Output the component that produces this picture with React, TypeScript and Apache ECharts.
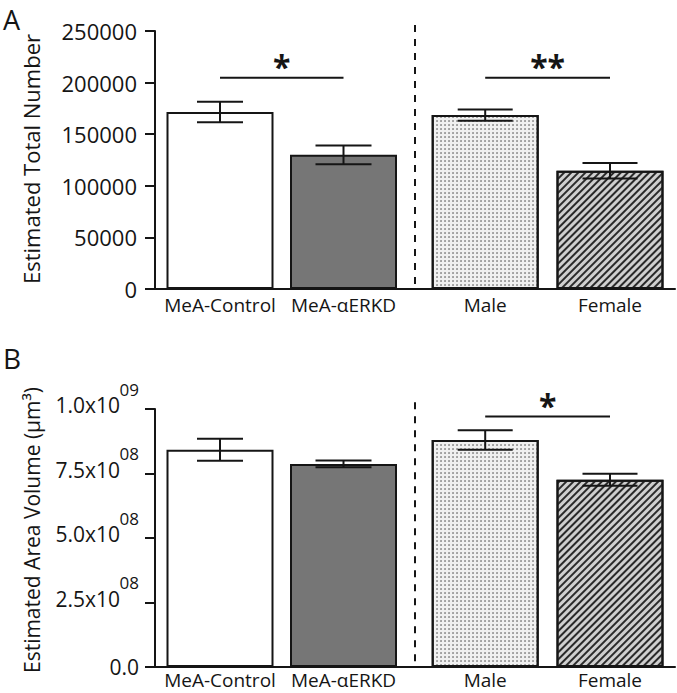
import React, { useEffect, useRef } from 'react';
import * as echarts from 'echarts';

// ---- data ----
const categories = ['MeA-Control', 'MeA-\u03b1ERKD', 'Male', 'Female'];
const categoryPositions = [0.5, 1.45, 2.54, 3.5];
const xMin = 0;
const xMax = 4;

const totalNumberMeans = [171500, 130000, 168500, 114500];
const totalNumberErrors = [10000, 9000, 5500, 7500];
const totalNumberTicks = { min: 0, max: 250000, interval: 50000 };

const areaVolumeMeans = [8.42e8, 7.87e8, 8.8e8, 7.26e8];
const areaVolumeErrors = [0.43e8, 0.13e8, 0.375e8, 0.23e8];
const areaVolumeTicks = { min: 0, max: 1e9, interval: 2.5e8 };

// significance brackets: [fromIndex, toIndex, level, label]
const sigTotalNumber: [number, number, number, string][] = [
  [0, 1, 204700, '*'],
  [2, 3, 204700, '**'],
];
const sigAreaVolume: [number, number, number, string][] = [[2, 3, 9.71e8, '*']];

// divider between the two experiments: [x, top value]
const dividerTotalNumber = [2.0, 255800];
const dividerAreaVolume = [2.0, 1.026e9];

// ---- styles ----
const FONT = 'Open Sans';
const INK = '#151515';
const capWidths = [46, 56, 55, 55];

const barStyles = [
  { color: '#ffffff' },
  { color: '#767676' },
  {
    color: '#f0f0f0',
    decal: {
      symbol: 'circle',
      symbolSize: 0.7,
      dashArrayX: [2, 2],
      dashArrayY: [2, 2],
      color: '#333333',
      backgroundColor: '#f2f2f2',
    },
  },
  {
    color: '#cfcfcf',
    decal: {
      symbol: 'rect',
      symbolSize: 1,
      dashArrayX: [1, 0],
      dashArrayY: [1.6, 3],
      rotation: -Math.PI / 4,
      color: '#2a2a2a',
      backgroundColor: '#cfcfcf',
    },
  },
];

function buildBars(means: number[]) {
  return means.map((m, i) => ({
    value: [categoryPositions[i], m],
    itemStyle: { ...barStyles[i], borderColor: INK, borderWidth: 2 },
  }));
}

function errorSeries(means: number[], errs: number[], idx: number) {
  return {
    type: 'custom',
    xAxisIndex: idx,
    yAxisIndex: idx,
    z: 5,
    data: means.map((m, i) => [categoryPositions[i], m, errs[i]]),
    renderItem: (params: any, api: any) => {
      const x = api.value(0);
      const m = api.value(1);
      const e = api.value(2);
      const top = api.coord([x, m + e]);
      const bot = api.coord([x, m - e]);
      const hw = capWidths[params.dataIndex] / 2;
      const st = { stroke: INK, lineWidth: 2 };
      return {
        type: 'group',
        children: [
          { type: 'line', shape: { x1: top[0], y1: top[1], x2: bot[0], y2: bot[1] }, style: st },
          { type: 'line', shape: { x1: top[0] - hw, y1: top[1], x2: top[0] + hw, y2: top[1] }, style: st },
          { type: 'line', shape: { x1: bot[0] - hw, y1: bot[1], x2: bot[0] + hw, y2: bot[1] }, style: st },
        ],
      };
    },
  };
}

function sigSeries(sigs: [number, number, number, string][], idx: number) {
  return {
    type: 'custom',
    xAxisIndex: idx,
    yAxisIndex: idx,
    z: 6,
    clip: false,
    data: sigs.map((s) => [categoryPositions[s[0]], categoryPositions[s[1]], s[2], s[3]]),
    renderItem: (params: any, api: any) => {
      const s = sigs[params.dataIndex];
      const a = api.coord([api.value(0), api.value(2)]);
      const b = api.coord([api.value(1), api.value(2)]);
      return {
        type: 'group',
        children: [
          {
            type: 'line',
            shape: { x1: a[0], y1: a[1], x2: b[0], y2: b[1] },
            style: { stroke: INK, lineWidth: 2 },
          },
          {
            type: 'text',
            x: (a[0] + b[0]) / 2,
            y: a[1] - 11,
            style: {
              text: s[3],
              fontFamily: FONT,
              fontSize: 32,
              fontWeight: 'bold',
              fill: INK,
              align: 'center',
              verticalAlign: 'middle',
            },
          },
        ],
      };
    },
  };
}

function dividerSeries(div: number[], idx: number) {
  return {
    type: 'custom',
    xAxisIndex: idx,
    yAxisIndex: idx,
    z: 4,
    clip: false,
    data: [div],
    renderItem: (_params: any, api: any) => {
      const t = api.coord([api.value(0), api.value(1)]);
      const b = api.coord([api.value(0), 0]);
      return {
        type: 'line',
        shape: { x1: t[0], y1: t[1], x2: b[0], y2: b[1] },
        style: { stroke: INK, lineWidth: 2, lineDash: [7, 7] },
      };
    },
  };
}

function xAxisFor(idx: number, margin: number) {
  return {
    type: 'value',
    gridIndex: idx,
    min: xMin,
    max: xMax,
    axisLine: { show: true, lineStyle: { color: INK, width: 2 } },
    axisTick: { show: false },
    splitLine: { show: false },
    axisLabel: {
      customValues: categoryPositions,
      formatter: (v: number) => {
        let best = 0;
        categoryPositions.forEach((p, i) => {
          if (Math.abs(p - v) < Math.abs(categoryPositions[best] - v)) best = i;
        });
        return categories[best];
      },
      fontFamily: FONT,
      fontSize: 19,
      lineHeight: 20,
      color: INK,
      margin,
    },
  };
}

export default function App() {
  const ref = useRef<HTMLDivElement>(null);
  useEffect(() => {
    if (!ref.current) return;
    const chart = echarts.init(ref.current, undefined, { renderer: 'svg' });
    const option: any = {
      animation: false,
      backgroundColor: '#ffffff',
      textStyle: { fontFamily: FONT },
      grid: [
        { left: 155, top: 31, width: 520, height: 258 },
        { left: 155, top: 409, width: 520, height: 258 },
      ],
      xAxis: [xAxisFor(0, 6), xAxisFor(1, 3)],
      yAxis: [
        {
          type: 'value',
          gridIndex: 0,
          ...totalNumberTicks,
          axisLine: { show: true, lineStyle: { color: INK, width: 2 } },
          axisTick: { show: true, length: 10, lineStyle: { color: INK, width: 2 } },
          splitLine: { show: false },
          axisLabel: {
            fontFamily: FONT,
            fontSize: 22,
            color: INK,
            margin: 18,
            formatter: (v: number) => String(v),
          },
        },
        {
          type: 'value',
          gridIndex: 1,
          ...areaVolumeTicks,
          axisLine: { show: true, lineStyle: { color: INK, width: 2 } },
          axisTick: { show: true, length: 10, lineStyle: { color: INK, width: 2 } },
          splitLine: { show: false },
          axisLabel: {
            fontFamily: FONT,
            color: INK,
            margin: 16,
            padding: [0, 0, 18, 0],
            formatter: (v: number) => {
              if (v === 0) return '{z|0.0}';
              const exp = Math.floor(Math.log10(v) + 1e-9);
              const mant = (v / Math.pow(10, exp)).toFixed(1);
              return `{s|${String(exp).padStart(2, '0')}}\n{m|${mant}x10}`;
            },
            rich: {
              s: { fontFamily: FONT, fontSize: 17, lineHeight: 10, color: INK },
              m: { fontFamily: FONT, fontSize: 21, lineHeight: 22, color: INK, padding: [0, 19, 0, 0] },
              z: { fontFamily: FONT, fontSize: 21, lineHeight: 22, color: INK, padding: [18, 0, 0, 0] },
            },
          },
        },
      ],
      graphic: [
        {
          type: 'text',
          x: 3,
          y: 19,
          style: {
            text: 'A',
            fontFamily: FONT,
            fontSize: 27,
            lineHeight: 24,
            fill: INK,
            verticalAlign: 'middle',
          },
        },
        {
          type: 'text',
          x: 3,
          y: 358,
          style: {
            text: 'B',
            fontFamily: FONT,
            fontSize: 28,
            lineHeight: 24,
            fill: INK,
            verticalAlign: 'middle',
          },
        },
        {
          type: 'text',
          x: 31,
          y: 159,
          rotation: Math.PI / 2,
          style: {
            text: 'Estimated Total Number',
            fontFamily: FONT,
            fontSize: 22,
            fill: INK,
            align: 'center',
            verticalAlign: 'middle',
          },
        },
        {
          type: 'text',
          x: 32,
          y: 530,
          rotation: Math.PI / 2,
          style: {
            text: 'Estimated Area Volume (\u03bcm\u00b3)',
            fontFamily: FONT,
            fontSize: 21,
            fill: INK,
            align: 'center',
            verticalAlign: 'middle',
          },
        },
      ],
      series: [
        {
          type: 'bar',
          xAxisIndex: 0,
          yAxisIndex: 0,
          barWidth: 107,
          data: buildBars(totalNumberMeans),
        },
        errorSeries(totalNumberMeans, totalNumberErrors, 0),
        sigSeries(sigTotalNumber, 0),
        dividerSeries(dividerTotalNumber, 0),
        {
          type: 'bar',
          xAxisIndex: 1,
          yAxisIndex: 1,
          barWidth: 107,
          data: buildBars(areaVolumeMeans),
        },
        errorSeries(areaVolumeMeans, areaVolumeErrors, 1),
        sigSeries(sigAreaVolume, 1),
        dividerSeries(dividerAreaVolume, 1),
      ],
    };
    chart.setOption(option);
    return () => chart.dispose();
  }, []);
  return (
    <div
      ref={ref}
      style={{ position: 'fixed', left: 0, top: 0, width: 677, height: 693, background: '#fff' }}
    />
  );
}
